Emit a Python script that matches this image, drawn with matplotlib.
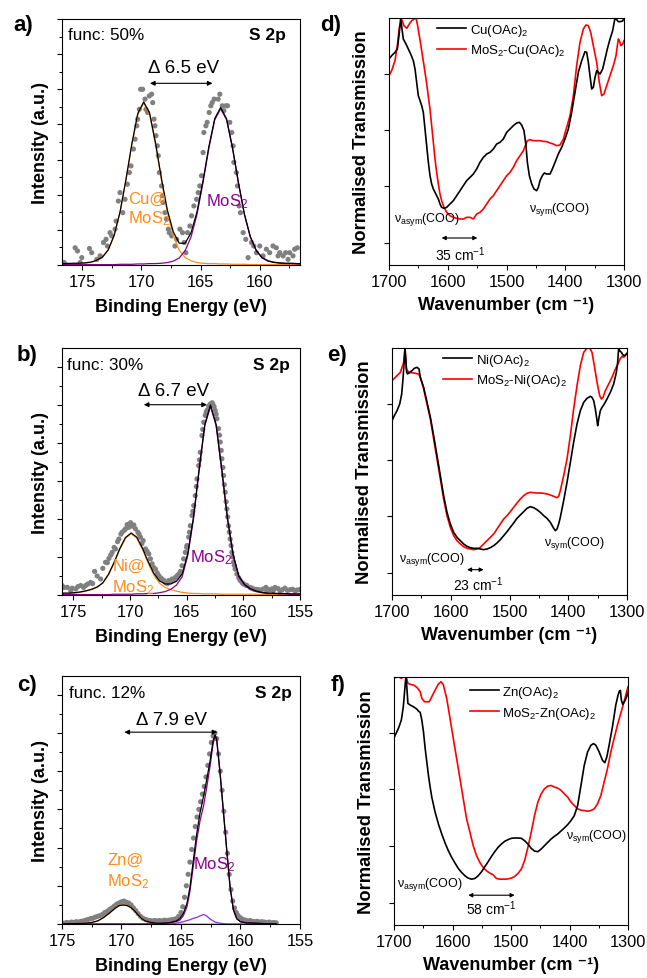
import matplotlib
matplotlib.use('Agg')
import matplotlib.pyplot as plt
from matplotlib.ticker import MultipleLocator, NullFormatter, FixedLocator
from matplotlib.lines import Line2D

plt.rcParams['font.family'] = ['Liberation Sans', 'DejaVu Sans']
plt.rcParams['mathtext.fontset'] = 'custom'
plt.rcParams['mathtext.rm'] = 'Liberation Sans'
plt.rcParams['mathtext.it'] = 'Liberation Sans:italic'
plt.rcParams['mathtext.bf'] = 'Liberation Sans:bold'

ORANGE = '#FF8C1A'
PURPLE = '#8B008B'
VIOLET = '#8A2BE2'
GREY = '#808080'
RED = '#FF0000'

# ---------------- XPS panel a (Cu) ----------------
a_fit_x = [176.8, 176.3, 175.8, 175.3, 174.8, 174.3, 173.8, 173.3, 172.8, 172.3, 171.8, 171.3, 170.8, 170.3,
           169.8, 169.3, 168.8, 168.3, 167.8, 167.3, 166.8, 166.3, 165.8, 165.3, 164.8, 164.3, 163.8, 163.3,
           162.8, 162.3, 161.8, 161.3, 160.8, 160.3, 159.8, 159.3, 158.8, 158.3, 157.8, 157.3, 156.8, 156.3]
a_fit_cu = [0.03, 0.03, 0.04, 0.04, 0.05, 0.07, 0.12, 0.21, 0.42, 0.83, 1.49, 2.41, 3.43, 4.28,
            4.61, 4.28, 3.43, 2.41, 1.49, 0.83, 0.42, 0.21, 0.12, 0.07, 0.05, 0.04, 0.04, 0.03,
            0.03, 0.02, 0.02, 0.02, 0.01, 0.01, 0.01, 0.01, 0.01, 0.01, 0.01, 0.01, 0.01, 0.01]
a_fit_mos = [0.01, 0.01, 0.01, 0.01, 0.01, 0.01, 0.01, 0.01, 0.01, 0.01, 0.02, 0.02, 0.02, 0.03,
             0.03, 0.04, 0.04, 0.05, 0.07, 0.11, 0.20, 0.41, 0.80, 1.44, 2.33, 3.32, 4.13, 4.45,
             4.13, 3.32, 2.33, 1.44, 0.80, 0.41, 0.20, 0.11, 0.07, 0.05, 0.04, 0.04, 0.03, 0.03]
a_fit_env = [0.04, 0.04, 0.05, 0.05, 0.06, 0.08, 0.13, 0.22, 0.43, 0.84, 1.51, 2.43, 3.45, 4.31,
             4.64, 4.32, 3.47, 2.46, 1.56, 0.94, 0.62, 0.62, 0.92, 1.51, 2.38, 3.36, 4.17, 4.48,
             4.16, 3.34, 2.35, 1.46, 0.81, 0.42, 0.21, 0.12, 0.08, 0.06, 0.05, 0.05, 0.04, 0.04]
a_pts = [(176.52, 0.07), (176.29, 0.0), (175.59, 0.49), (175.39, 0.40), (175.17, 0.07), (175.03, 0.21),
         (174.38, 0.47), (174.19, 0.35), (173.76, 0.16), (173.48, 0.26), (173.20, 0.64), (172.98, 0.73),
         (172.87, 0.54), (172.64, 0.92), (172.50, 0.83), (172.22, 1.02), (172.13, 1.25), (171.94, 1.82),
         (171.80, 2.06), (171.57, 1.49), (171.38, 1.87), (171.18, 2.30), (171.01, 2.63), (170.87, 2.82),
         (170.67, 3.30), (170.53, 3.58), (170.39, 3.96), (170.31, 4.15), (170.17, 4.43), (170.06, 5.00),
         (169.89, 5.00), (169.69, 4.72), (169.61, 4.43), (169.47, 4.34), (169.33, 4.81), (169.13, 4.86),
         (169.04, 4.62), (168.93, 4.15), (168.85, 3.96), (168.76, 3.68), (168.65, 3.39), (168.57, 3.11),
         (168.48, 2.63), (168.29, 2.25), (168.20, 1.97), (168.15, 1.78), (168.01, 1.49), (167.87, 1.30),
         (167.72, 1.02), (167.64, 0.92), (167.44, 0.83), (167.16, 0.54), (167.02, 0.73), (166.74, 1.02),
         (166.52, 0.92), (166.38, 0.64), (166.24, 0.35), (166.10, 0.92), (165.90, 1.11), (165.76, 1.40),
         (165.56, 1.68), (165.34, 1.87), (165.20, 2.06), (165.06, 2.25), (164.92, 2.54), (164.78, 3.20),
         (164.72, 3.77), (164.55, 3.96), (164.44, 4.06), (164.27, 4.34), (164.13, 4.53), (164.02, 4.62),
         (163.85, 4.72), (163.51, 4.72), (163.37, 4.86), (163.17, 4.53), (163.03, 4.39), (162.87, 4.53),
         (162.72, 4.53), (162.53, 4.06), (162.36, 3.77), (162.25, 3.39), (162.19, 2.92), (161.97, 2.63),
         (161.88, 2.25), (161.74, 1.68), (161.63, 1.49), (161.40, 0.92), (161.18, 0.73), (160.98, 0.21),
         (160.70, 0.64), (160.51, 0.54), (160.28, 0.35), (160.00, 0.54), (159.72, 0.26), (159.44, 0.45),
         (159.16, 0.35), (158.88, 0.54), (158.60, 0.49), (158.45, 0.26), (158.31, 0.35), (158.03, 0.26),
         (157.81, 0.35), (157.61, 0.16), (157.47, 0.35), (157.19, 0.26), (157.05, 0.45), (156.83, 0.49)]

# ---------------- XPS panel b (Ni) ----------------
b_fit_x = [176.4, 175.9, 175.4, 174.9, 174.4, 173.9, 173.4, 172.9, 172.4, 171.9, 171.4, 170.9, 170.4, 169.9,
           169.4, 168.9, 168.4, 167.9, 167.4, 166.9, 166.4, 165.9, 165.4, 164.9, 164.4, 163.9, 163.4, 162.9,
           162.4, 161.9, 161.4, 160.9, 160.4, 159.9, 159.4, 158.9, 158.4, 157.9, 157.4, 156.9, 156.4, 155.9,
           155.4, 154.9]
b_fit_ni = [0.03, 0.04, 0.04, 0.05, 0.07, 0.10, 0.14, 0.20, 0.31, 0.53, 0.84, 1.20, 1.49, 1.61,
            1.49, 1.20, 0.84, 0.53, 0.31, 0.20, 0.14, 0.10, 0.07, 0.05, 0.04, 0.04, 0.03, 0.03,
            0.03, 0.02, 0.02, 0.02, 0.02, 0.02, 0.02, 0.02, 0.01, 0.01, 0.01, 0.01, 0.01, 0.01,
            0.01, 0.01]
b_fit_mos = [0.01, 0.01, 0.01, 0.01, 0.01, 0.01, 0.01, 0.01, 0.01, 0.01, 0.02, 0.02, 0.02, 0.02,
             0.03, 0.03, 0.04, 0.04, 0.06, 0.09, 0.15, 0.26, 0.48, 1.04, 2.00, 3.27, 4.45, 4.96,
             4.45, 3.27, 2.00, 1.04, 0.48, 0.26, 0.15, 0.09, 0.06, 0.04, 0.04, 0.03, 0.03, 0.02,
             0.02, 0.02]
b_fit_env = [0.04, 0.05, 0.05, 0.06, 0.08, 0.11, 0.15, 0.21, 0.32, 0.54, 0.86, 1.22, 1.51, 1.63,
             1.52, 1.23, 0.88, 0.57, 0.37, 0.29, 0.29, 0.36, 0.55, 1.09, 2.04, 3.31, 4.48, 4.99,
             4.48, 3.29, 2.02, 1.06, 0.50, 0.28, 0.17, 0.11, 0.07, 0.05, 0.05, 0.04, 0.04, 0.03,
             0.03, 0.03]
b_pts = [(175.82, 0.20), (175.53, 0.20), (175.23, 0.11), (174.79, 0.16), (174.35, 0.25), (173.91, 0.25),
         (173.71, 0.29), (173.47, 0.33), (173.12, 0.62), (172.59, 0.42), (172.16, 0.86), (171.86, 0.96),
         (171.57, 1.12), (171.28, 1.21), (170.98, 1.47), (170.69, 1.65), (170.39, 1.74), (170.10, 1.78),
         (169.81, 1.81), (169.66, 1.84), (169.52, 1.74), (169.31, 1.65), (169.08, 1.52), (168.84, 1.43),
         (168.64, 1.21), (168.34, 1.08), (168.05, 0.82), (167.76, 0.68), (167.46, 0.51), (167.17, 0.42),
         (166.88, 0.33), (166.58, 0.38), (166.29, 0.42), (166.00, 0.46), (165.70, 0.55), (165.41, 0.77),
         (165.27, 0.95), (165.12, 1.12), (164.97, 1.30), (164.82, 1.52), (164.68, 1.82), (164.53, 2.09),
         (164.38, 2.35), (164.24, 2.61), (164.09, 3.05), (163.94, 3.40), (163.80, 3.75), (163.65, 4.19),
         (163.50, 4.54), (163.36, 4.72), (163.21, 4.85), (163.06, 4.96), (162.86, 5.03), (162.68, 5.00),
         (162.48, 4.85), (162.33, 4.63), (162.19, 4.37), (162.04, 4.02), (161.89, 3.58), (161.75, 3.14),
         (161.60, 2.70), (161.45, 2.26), (161.31, 1.82), (161.16, 1.47), (161.01, 1.12), (160.87, 0.86),
         (160.72, 0.68), (160.57, 0.55), (160.28, 0.38), (159.99, 0.29), (159.69, 0.25), (159.40, 0.20),
         (159.11, 0.16), (158.67, 0.14), (158.23, 0.16), (157.93, 0.11), (157.49, 0.16), (157.20, 0.20),
         (156.76, 0.11), (156.32, 0.18), (155.88, 0.14), (155.44, 0.11), (155.06, 0.14),
         (176.0, 0.25), (175.1, 0.18), (174.6, 0.22), (174.1, 0.20), (173.3, 0.30), (172.9, 0.50),
         (172.4, 0.70), (172.0, 0.85), (171.7, 1.05), (171.4, 1.25), (171.1, 1.40), (170.8, 1.60),
         (170.5, 1.70), (170.25, 1.85), (169.95, 1.90), (169.2, 1.60), (168.95, 1.35), (168.5, 1.15),
         (168.2, 0.95), (167.9, 0.72), (167.6, 0.58), (167.3, 0.45), (167.0, 0.38), (166.7, 0.30),
         (166.4, 0.35), (166.15, 0.40), (165.85, 0.50), (165.55, 0.62), (165.0, 1.25), (164.75, 1.65),
         (164.45, 2.20), (164.15, 2.85), (163.87, 3.55), (163.58, 4.35), (163.28, 4.80), (162.95, 5.00),
         (162.75, 5.05), (162.58, 4.95), (162.4, 4.75), (162.1, 4.20), (161.95, 3.80), (161.8, 3.35),
         (161.68, 2.90), (161.52, 2.45), (161.38, 2.05), (161.23, 1.65), (161.08, 1.30), (160.95, 1.00),
         (160.8, 0.78), (160.4, 0.45), (160.1, 0.32), (159.8, 0.26), (159.25, 0.18), (158.9, 0.15),
         (158.45, 0.13), (158.0, 0.20), (157.7, 0.14), (157.35, 0.12), (156.95, 0.17), (156.55, 0.14),
         (156.1, 0.12), (155.65, 0.15), (155.25, 0.13)]

# ---------------- XPS panel c (Zn) ----------------
c_fit_x = [175.2, 174.0, 173.0, 172.5, 172.0, 171.5, 171.0, 170.5, 170.2, 169.85, 169.5, 169.2, 168.9, 168.6,
           168.3, 168.0, 167.5, 167.0, 166.5, 166.0, 165.4, 165.1, 164.8, 164.5, 164.25, 163.95, 163.7, 163.4,
           163.1, 162.85, 162.55, 162.3, 162.14, 162.0, 161.72, 161.44, 161.16, 160.88, 160.6, 160.32, 160.0,
           159.5, 158.0, 157.0]
c_fit_zn = [0.0, 0.01, 0.02, 0.04, 0.08, 0.17, 0.29, 0.42, 0.48, 0.50, 0.48, 0.43, 0.34, 0.24,
            0.14, 0.08, 0.03, 0.01, 0.0, 0.0, 0.0, 0.0, 0.0, 0.0, 0.0, 0.0, 0.0, 0.0,
            0.0, 0.0, 0.0, 0.0, 0.0, 0.0, 0.0, 0.0, 0.0, 0.0, 0.0, 0.0, 0.0, 0.0, 0.0, 0.0]
c_fit_mos = [0.0, 0.0, 0.0, 0.0, 0.0, 0.0, 0.0, 0.0, 0.0, 0.0, 0.0, 0.0, 0.0, 0.0,
             0.0, 0.0, 0.01, 0.01, 0.02, 0.03, 0.06, 0.10, 0.22, 0.45, 0.85, 1.55, 2.15, 2.70,
             3.10, 3.55, 4.15, 4.72, 4.90, 4.80, 3.95, 2.95, 1.95, 0.98, 0.38, 0.14, 0.06, 0.03, 0.01, 0.0]
c_fit_minor = [0.0, 0.0, 0.0, 0.0, 0.0, 0.0, 0.0, 0.0, 0.0, 0.0, 0.0, 0.0, 0.0, 0.0,
               0.0, 0.0, 0.0, 0.0, 0.0, 0.0, 0.02, 0.04, 0.06, 0.09, 0.11, 0.15, 0.17, 0.21,
               0.25, 0.21, 0.13, 0.08, 0.05, 0.04, 0.02, 0.01, 0.0, 0.0, 0.0, 0.0, 0.0, 0.0, 0.0, 0.0]
c_fit_env = [0.0, 0.01, 0.02, 0.04, 0.08, 0.17, 0.29, 0.42, 0.48, 0.50, 0.48, 0.43, 0.34, 0.24,
             0.14, 0.08, 0.04, 0.02, 0.02, 0.03, 0.08, 0.14, 0.28, 0.54, 0.96, 1.70, 2.32, 2.91,
             3.35, 3.76, 4.28, 4.80, 4.95, 4.84, 3.97, 2.96, 1.95, 0.98, 0.38, 0.14, 0.06, 0.03, 0.01, 0.0]
c_pts = [(175.0, 0.03), (174.8, 0.02), (174.6, 0.04), (174.4, 0.03), (174.2, 0.05), (174.0, 0.04),
         (173.8, 0.06), (173.6, 0.05), (173.4, 0.07), (173.2, 0.08), (173.0, 0.10), (172.8, 0.12),
         (172.6, 0.14), (172.4, 0.15), (172.2, 0.18), (172.0, 0.20), (171.8, 0.22), (171.6, 0.25),
         (171.4, 0.30), (171.2, 0.33), (171.0, 0.38), (170.8, 0.42), (170.6, 0.47), (170.4, 0.52),
         (170.2, 0.55), (170.0, 0.58), (169.8, 0.60), (169.6, 0.57), (169.4, 0.55), (169.2, 0.50),
         (169.0, 0.42), (168.8, 0.35), (168.6, 0.27), (168.4, 0.20), (168.2, 0.15), (168.0, 0.12),
         (167.8, 0.10), (167.6, 0.09), (167.4, 0.08), (167.2, 0.09), (167.0, 0.08), (166.8, 0.09),
         (166.6, 0.08), (166.4, 0.10), (166.2, 0.09), (166.0, 0.10), (165.8, 0.11), (165.6, 0.12),
         (165.4, 0.14), (165.2, 0.20), (165.0, 0.30), (164.85, 0.45), (164.7, 0.70), (164.55, 1.00),
         (164.4, 1.30), (164.25, 1.62), (164.1, 1.95), (163.95, 2.25), (163.8, 2.55), (163.65, 2.80),
         (163.5, 3.00), (163.35, 3.20), (163.2, 3.40), (163.05, 3.60), (162.9, 3.85), (162.75, 4.15),
         (162.6, 4.45), (162.45, 4.75), (162.3, 4.92), (162.15, 5.00), (162.0, 4.85), (161.85, 4.45),
         (161.7, 4.00), (161.55, 3.50), (161.4, 2.95), (161.25, 2.40), (161.1, 1.85), (160.95, 1.30),
         (160.8, 0.90), (160.65, 0.60), (160.5, 0.42), (160.35, 0.30), (160.2, 0.22), (160.0, 0.16),
         (159.8, 0.12), (159.6, 0.10), (159.4, 0.08), (159.2, 0.09), (159.0, 0.07), (158.8, 0.06),
         (158.6, 0.07), (158.4, 0.05), (158.2, 0.06), (158.0, 0.05), (157.8, 0.04), (157.6, 0.05),
         (157.4, 0.03), (157.2, 0.04), (157.0, 0.03)]

# ---------------- IR panel d (Cu) ----------------
d_salt = [(1700, 6.18), (1695.5, 6.28), (1689.8, 6.38), (1685.8, 6.48), (1682.4, 6.98), (1680.1, 7.41),
          (1677.9, 7.08), (1675.6, 6.78), (1671.1, 6.63), (1667.1, 6.48), (1663.1, 6.33), (1658.6, 6.13),
          (1655.7, 5.88), (1652.9, 5.48), (1650.1, 5.08), (1647.2, 4.93), (1644.4, 4.78), (1641.6, 4.58),
          (1638.7, 4.08), (1635.9, 3.58), (1633.0, 3.08), (1630.2, 2.68), (1627.4, 2.43), (1624.5, 2.28),
          (1621.7, 2.18), (1618.9, 2.08), (1616.0, 1.98), (1613.2, 1.83), (1610.4, 1.73), (1606.4, 1.70),
          (1601.8, 1.73), (1596.2, 1.83), (1590.5, 1.93), (1584.8, 2.08), (1579.1, 2.23), (1573.5, 2.38),
          (1567.8, 2.53), (1562.1, 2.63), (1556.4, 2.73), (1550.8, 2.88), (1545.1, 3.08), (1539.4, 3.23),
          (1533.7, 3.33), (1528.1, 3.38), (1522.4, 3.48), (1516.7, 3.63), (1511.1, 3.68), (1505.4, 3.78),
          (1499.7, 3.98), (1494.0, 4.08), (1488.4, 4.18), (1482.7, 4.26), (1478.1, 4.28), (1474.2, 4.20),
          (1470.2, 4.03), (1466.8, 3.58), (1464.5, 3.08), (1461.1, 2.68), (1457.1, 2.43), (1453.2, 2.28),
          (1448.6, 2.23), (1445.8, 2.33), (1443.0, 2.53), (1439.0, 2.68), (1435.6, 2.76), (1431.6, 2.73),
          (1425.9, 2.73), (1422.0, 2.88), (1417.4, 3.08), (1411.8, 3.33), (1406.1, 3.53), (1400.4, 3.78),
          (1394.7, 4.08), (1389.1, 4.58), (1383.4, 5.18), (1377.7, 5.78), (1372.0, 6.13), (1366.4, 6.40),
          (1363.5, 6.38), (1360.7, 6.08), (1357.9, 5.68), (1355.0, 5.28), (1352.2, 5.33), (1349.3, 5.63),
          (1346.5, 5.83), (1343.7, 5.78), (1340.8, 5.73), (1336.3, 5.88), (1332.3, 6.18), (1328.4, 6.48),
          (1323.8, 6.78), (1319.3, 7.03), (1315.3, 7.41), (1312.5, 7.36), (1309.6, 7.30), (1306.8, 7.30),
          (1302.2, 7.32), (1300.0, 7.41)]
d_hybrid = [(1700, 5.68), (1695.5, 5.83), (1689.8, 6.13), (1685.8, 6.58), (1682.4, 7.13), (1678.4, 7.36),
            (1674.5, 7.18), (1669.9, 7.10), (1665.4, 7.23), (1661.4, 7.33), (1657.4, 7.38), (1654.0, 7.41),
            (1651.8, 7.23), (1648.4, 6.88), (1644.4, 6.43), (1640.4, 5.98), (1637.0, 5.58), (1634.7, 5.28),
            (1632.5, 4.98), (1630.2, 4.68), (1627.4, 4.18), (1624.5, 3.68), (1621.7, 3.18), (1618.9, 2.78),
            (1616.0, 2.43), (1613.2, 2.13), (1610.4, 1.93), (1606.4, 1.73), (1601.8, 1.58), (1596.2, 1.48),
            (1590.5, 1.43), (1584.8, 1.40), (1579.1, 1.38), (1573.5, 1.38), (1567.8, 1.43), (1562.1, 1.43),
            (1556.4, 1.38), (1550.8, 1.53), (1545.1, 1.58), (1539.4, 1.68), (1533.7, 1.83), (1528.1, 1.98),
            (1522.4, 2.08), (1516.7, 2.23), (1511.1, 2.38), (1505.4, 2.53), (1499.7, 2.68), (1494.0, 2.78),
            (1488.4, 2.93), (1482.7, 3.13), (1477.0, 3.28), (1471.3, 3.43), (1466.8, 3.63), (1464.5, 3.73),
            (1460.0, 3.76), (1454.3, 3.73), (1448.6, 3.73), (1443.0, 3.73), (1437.3, 3.71), (1431.6, 3.70),
            (1425.9, 3.66), (1420.3, 3.63), (1414.6, 3.58), (1408.9, 3.60), (1403.2, 3.78), (1397.6, 4.13),
            (1391.9, 4.48), (1386.2, 5.08), (1380.6, 5.98), (1374.9, 6.68), (1369.2, 7.08), (1364.7, 7.20),
            (1360.7, 7.18), (1356.7, 6.98), (1352.2, 6.58), (1346.5, 6.08), (1342.0, 5.48), (1338.0, 5.08),
            (1334.0, 5.13), (1329.5, 5.38), (1323.8, 5.68), (1318.1, 5.98), (1313.6, 6.28), (1311.3, 6.58),
            (1309.6, 6.78), (1307.9, 6.73), (1305.1, 6.58), (1302.2, 6.63), (1300.0, 6.73)]

# ---------------- IR panel e (Ni) ----------------
e_salt = [(1700, 5.23), (1696.0, 5.38), (1691.5, 5.53), (1686.9, 5.73), (1683.5, 6.03), (1681.3, 6.48),
          (1679.0, 7.08), (1677.9, 7.40), (1676.7, 7.13), (1675.0, 6.68), (1673.3, 6.63), (1669.9, 6.68),
          (1666.0, 6.73), (1662.0, 6.80), (1657.4, 6.83), (1654.0, 6.78), (1651.8, 6.53), (1646.1, 6.23),
          (1640.4, 5.78), (1634.7, 5.33), (1629.1, 4.78), (1623.4, 4.18), (1617.7, 3.58), (1612.1, 2.98),
          (1606.4, 2.48), (1600.7, 2.13), (1595.0, 1.88), (1589.4, 1.73), (1583.7, 1.63), (1578.0, 1.53),
          (1572.3, 1.46), (1566.7, 1.42), (1561.0, 1.40), (1555.3, 1.40), (1549.6, 1.38), (1544.0, 1.36),
          (1538.3, 1.38), (1532.6, 1.42), (1526.9, 1.48), (1521.3, 1.56), (1515.6, 1.66), (1509.9, 1.78),
          (1504.2, 1.90), (1498.6, 2.03), (1492.9, 2.16), (1487.2, 2.30), (1481.6, 2.40), (1475.9, 2.50),
          (1470.2, 2.60), (1464.5, 2.65), (1458.9, 2.62), (1453.2, 2.56), (1447.5, 2.48), (1441.8, 2.38),
          (1436.2, 2.30), (1430.5, 2.18), (1424.8, 2.00), (1422.0, 1.93), (1419.1, 1.98), (1416.3, 2.13),
          (1413.5, 2.33), (1407.8, 2.83), (1402.1, 3.38), (1396.4, 3.98), (1390.8, 4.58), (1385.1, 5.13),
          (1379.4, 5.53), (1373.7, 5.78), (1368.1, 5.90), (1362.4, 5.96), (1359.6, 5.93), (1356.7, 5.83),
          (1353.9, 5.58), (1351.0, 5.23), (1349.9, 5.08), (1347.6, 5.33), (1345.4, 5.53), (1342.5, 5.63),
          (1339.7, 5.70), (1334.0, 5.88), (1328.4, 6.08), (1322.7, 6.33), (1318.1, 6.68), (1315.9, 6.98),
          (1314.2, 7.40), (1312.5, 7.33), (1309.6, 7.28), (1306.8, 7.20), (1304.0, 7.18), (1300.0, 7.25)]
e_hybrid = [(1700, 6.43), (1694.3, 6.53), (1685.8, 6.68), (1680.1, 6.98), (1677.9, 7.41), (1675.6, 6.78),
            (1671.6, 6.68), (1663.1, 6.66), (1654.6, 6.63), (1651.8, 6.53), (1646.1, 6.18), (1640.4, 5.73),
            (1634.7, 5.28), (1629.1, 4.68), (1623.4, 4.08), (1617.7, 3.48), (1612.1, 2.88), (1606.4, 2.38),
            (1600.7, 2.03), (1595.0, 1.78), (1589.4, 1.63), (1583.7, 1.53), (1578.0, 1.45), (1572.3, 1.40),
            (1566.7, 1.38), (1561.0, 1.36), (1555.3, 1.38), (1549.6, 1.43), (1544.0, 1.53), (1538.3, 1.63),
            (1532.6, 1.73), (1526.9, 1.83), (1521.3, 1.98), (1515.6, 2.13), (1509.9, 2.28), (1504.2, 2.38),
            (1498.6, 2.50), (1492.9, 2.63), (1487.2, 2.76), (1481.6, 2.88), (1475.9, 2.98), (1470.2, 3.05),
            (1464.5, 3.08), (1458.9, 3.07), (1453.2, 3.06), (1447.5, 3.06), (1441.8, 3.05), (1436.2, 3.03),
            (1430.5, 3.00), (1424.8, 2.96), (1419.1, 2.92), (1416.3, 2.96), (1413.5, 3.13), (1407.8, 3.58),
            (1402.1, 4.08), (1396.4, 4.78), (1390.8, 5.58), (1385.1, 6.28), (1379.4, 6.88), (1373.7, 7.28),
            (1368.1, 7.40), (1363.5, 7.41), (1359.6, 7.28), (1355.6, 6.88), (1351.0, 6.38), (1346.5, 5.98),
            (1343.7, 5.88), (1340.8, 5.93), (1336.9, 6.13), (1331.2, 6.33), (1325.5, 6.53), (1319.8, 6.78),
            (1315.3, 6.93), (1311.3, 7.10), (1308.5, 7.16), (1305.7, 7.13), (1302.8, 7.18), (1300.0, 7.25)]

# ---------------- IR panel f (Zn) ----------------
f_salt = [(1700, 5.59), (1696.6, 5.72), (1692.1, 5.89), (1687.5, 6.12), (1684.1, 6.52), (1681.9, 6.97),
          (1679.6, 7.45), (1677.9, 7.07), (1676.2, 6.62), (1672.2, 6.57), (1666.6, 6.52), (1660.9, 6.45),
          (1658.1, 6.39), (1655.2, 6.35), (1652.4, 6.12), (1649.6, 5.77), (1646.7, 5.27), (1643.9, 4.87),
          (1641.1, 4.47), (1638.2, 4.12), (1635.4, 3.82), (1629.7, 3.37), (1624.1, 3.02), (1618.4, 2.72),
          (1612.7, 2.45), (1607.1, 2.22), (1601.4, 2.02), (1595.7, 1.85), (1590.1, 1.69), (1584.4, 1.57),
          (1578.7, 1.47), (1573.1, 1.40), (1567.4, 1.37), (1561.7, 1.39), (1556.1, 1.47), (1550.4, 1.59),
          (1544.8, 1.74), (1539.1, 1.89), (1533.4, 2.05), (1527.8, 2.19), (1522.1, 2.32), (1516.4, 2.42),
          (1510.8, 2.50), (1505.1, 2.55), (1499.4, 2.59), (1493.8, 2.60), (1488.1, 2.60), (1482.4, 2.59),
          (1476.8, 2.52), (1471.1, 2.42), (1465.4, 2.29), (1459.8, 2.21), (1454.1, 2.19), (1448.4, 2.27),
          (1442.8, 2.37), (1437.1, 2.47), (1431.4, 2.57), (1425.8, 2.65), (1420.1, 2.72), (1414.4, 2.81),
          (1408.8, 2.90), (1403.1, 3.00), (1397.4, 3.12), (1391.8, 3.27), (1386.1, 3.57), (1380.4, 4.17),
          (1374.8, 4.77), (1369.1, 5.17), (1363.4, 5.37), (1358.9, 5.42), (1354.9, 5.37), (1349.3, 5.17),
          (1343.6, 4.92), (1339.6, 4.85), (1336.2, 5.02), (1332.3, 5.37), (1326.6, 5.92), (1320.9, 6.57),
          (1317.0, 6.87), (1314.7, 6.99), (1313.0, 7.01), (1311.3, 6.72), (1309.0, 6.59), (1305.6, 6.69),
          (1302.2, 6.82), (1300.0, 6.97)]
f_hybrid = [(1700, 7.37), (1696.6, 7.40), (1692.1, 7.42), (1687.5, 7.37), (1683.6, 7.42), (1679.6, 7.45),
            (1676.2, 7.22), (1672.2, 7.19), (1666.6, 7.17), (1660.9, 7.10), (1655.2, 6.97), (1652.4, 6.77),
            (1647.9, 6.67), (1643.9, 6.67), (1639.9, 6.67), (1635.4, 6.82), (1629.7, 7.02), (1624.1, 7.20),
            (1619.5, 7.27), (1615.6, 7.17), (1609.9, 6.77), (1604.2, 6.17), (1598.6, 5.57), (1592.9, 4.97),
            (1587.2, 4.37), (1581.6, 3.77), (1575.9, 3.17), (1570.2, 2.77), (1564.6, 2.37), (1558.9, 2.07),
            (1553.3, 1.87), (1547.6, 1.72), (1541.9, 1.62), (1536.3, 1.55), (1530.6, 1.50), (1524.9, 1.39),
            (1519.3, 1.37), (1513.6, 1.37), (1507.9, 1.37), (1499.4, 1.40), (1493.8, 1.45), (1488.1, 1.54),
            (1482.4, 1.67), (1476.8, 1.92), (1471.1, 2.32), (1465.4, 2.77), (1459.8, 3.27), (1454.1, 3.67),
            (1448.4, 3.92), (1442.8, 4.07), (1437.1, 4.15), (1431.4, 4.17), (1425.8, 4.12), (1420.1, 4.09),
            (1414.4, 4.02), (1408.8, 3.92), (1403.1, 3.82), (1397.4, 3.67), (1391.8, 3.57), (1386.1, 3.47),
            (1380.4, 3.43), (1374.8, 3.42), (1369.1, 3.40), (1363.4, 3.42), (1357.8, 3.47), (1352.1, 3.62),
            (1346.4, 3.87), (1340.8, 4.27), (1335.1, 4.67), (1329.4, 5.17), (1323.8, 5.57), (1318.1, 5.97),
            (1312.4, 6.32), (1306.8, 6.67), (1300.0, 7.12)]

ir_yticks = [0.67, 2.36, 4.05, 5.74]

# ---------------- figure ----------------
W, H = 647, 979
fig = plt.figure(figsize=(W / 100, H / 100), dpi=100)
fig.patch.set_facecolor('white')


def px_axes(l, t, r, b):
    return fig.add_axes([l / W, 1 - b / H, (r - l) / W, (b - t) / H])


ax_a = px_axes(62, 20, 300, 266)
ax_b = px_axes(62, 349, 300, 596)
ax_c = px_axes(62, 677, 300, 925)
ax_d = px_axes(389, 19, 624, 266)
ax_e = px_axes(392, 349, 627, 596)
ax_f = px_axes(394, 678, 628, 926)


def style(ax):
    for s in ax.spines.values():
        s.set_linewidth(0.8)
    ax.tick_params(which='major', direction='out', length=3.5, width=0.8, labelsize=11.8, pad=3)
    ax.tick_params(which='minor', direction='out', length=2, width=0.7)
    ax.yaxis.set_major_formatter(NullFormatter())
    ax.yaxis.set_minor_formatter(NullFormatter())


def xps(ax, xlim, ylim, fit_x, comps, env, pts, func_txt, delta_txt, delta_pos, arrow, labels):
    px, py = zip(*pts)
    ax.scatter(px, py, s=14, color=GREY, edgecolors='none', zorder=1, clip_on=True)
    for ys, col in comps:
        ax.plot(fit_x, ys, color=col, lw=0.9, zorder=2)
    ax.plot(fit_x, env, color='black', lw=0.9, zorder=3)
    ax.set_xlim(*xlim)
    ax.set_ylim(*ylim)
    ax.xaxis.set_major_locator(MultipleLocator(5))
    ax.xaxis.set_minor_locator(MultipleLocator(2.5))
    ax.yaxis.set_major_locator(MultipleLocator(1))
    ax.yaxis.set_minor_locator(MultipleLocator(0.5))
    style(ax)
    ax.set_xlabel('Binding Energy (eV)', fontsize=13, fontweight='bold')
    ax.xaxis.set_label_coords(0.5, -0.167)
    ax.xaxis.label.set_va('center')
    ax.set_ylabel('Intensity (a.u.)', fontsize=13, fontweight='bold', va='center')
    ax.yaxis.set_label_coords(-0.092, 0.5)
    ax.text(func_txt[1], 0.935, func_txt[0], transform=ax.transAxes, fontsize=12.3, ha='left', va='center')
    ax.text(func_txt[2], 0.935, 'S 2p', transform=ax.transAxes, fontsize=12.5, fontweight='bold',
            ha='right', va='center')
    ax.text(delta_pos[0], delta_pos[1], delta_txt, fontsize=13.5, ha='center', va='center')
    ax.annotate('', xy=(arrow[0], arrow[2]), xytext=(arrow[1], arrow[2]),
                arrowprops=dict(arrowstyle='<|-|>', color='black', lw=0.8, mutation_scale=7,
                                shrinkA=0, shrinkB=0))
    for (tx, ty, txt, col) in labels:
        ax.text(tx, ty, txt, color=col, fontsize=12, ha='left', va='center')


xps(ax_a, (176.7, 156.6), (0, 7.0), a_fit_x, [(a_fit_cu, ORANGE), (a_fit_mos, PURPLE)], a_fit_env, a_pts,
    ('func: 50%', 0.027, 0.941), '\u0394 6.5 eV', (166.45, 5.62), (169.27, 163.99, 5.17),
    [(171.1, 1.90, 'Cu@', ORANGE), (171.1, 1.36, 'MoS$_2$', ORANGE), (164.55, 1.82, 'MoS$_2$', PURPLE)])

xps(ax_b, (176.0, 155.0), (0, 6.49), b_fit_x, [(b_fit_ni, ORANGE), (b_fit_mos, PURPLE)], b_fit_env, b_pts,
    ('func: 30%', 0.02, 0.958), '\u0394 6.7 eV', (166.15, 5.38), (168.78, 163.21, 5.0),
    [(171.57, 0.77, 'Ni@', ORANGE), (171.57, 0.23, 'MoS$_2$', ORANGE), (164.74, 1.02, 'MoS$_2$', PURPLE)])

xps(ax_c, (175.0, 155.0), (0, 6.49), c_fit_x,
    [(c_fit_zn, ORANGE), (c_fit_minor, VIOLET), (c_fit_mos, PURPLE)], c_fit_env, c_pts,
    ('func. 12%', 0.031, 0.965), '\u0394 7.9 eV', (165.8, 5.34), (169.76, 161.95, 5.02),
    [(171.19, 1.69, 'Zn@', ORANGE), (171.19, 1.14, 'MoS$_2$', ORANGE), (163.96, 1.58, 'MoS$_2$', PURPLE)])


def ir(ax, salt, hybrid, salt_lbl, hyb_lbl, leg_xy, asym_xy, sym_xy, arrow, shift_txt, shift_xy):
    sx, sy = zip(*salt)
    hx, hy = zip(*hybrid)
    ax.plot(sx, sy, color='black', lw=1.2, zorder=3)
    ax.plot(hx, hy, color=RED, lw=1.2, zorder=2)
    ax.set_xlim(1700, 1300)
    ax.set_ylim(0, 7.41)
    ax.xaxis.set_major_locator(MultipleLocator(100))
    ax.xaxis.set_minor_locator(MultipleLocator(50))
    ax.yaxis.set_major_locator(FixedLocator(ir_yticks))
    style(ax)
    ax.set_xlabel('Wavenumber (cm \u207b\u00b9)', fontsize=13, fontweight='bold')
    ax.xaxis.set_label_coords(0.5, -0.16)
    ax.xaxis.label.set_va('center')
    ax.set_ylabel('Normalised Transmission', fontsize=13.2, fontweight='bold', va='center')
    ax.yaxis.set_label_coords(-0.119, 0.5)
    handles = [Line2D([], [], color='black', lw=1.2), Line2D([], [], color=RED, lw=1.2)]
    ax.legend(handles, [salt_lbl, hyb_lbl], loc='upper left', bbox_to_anchor=leg_xy, frameon=False,
              fontsize=9.5, handlelength=2.2, handletextpad=0.25, labelspacing=0.35, borderpad=0,
              borderaxespad=0)
    ax.text(asym_xy[0], asym_xy[1], '\u03bd$_{\\mathrm{asym}}$(COO)', fontsize=9, ha='left', va='center')
    ax.text(sym_xy[0], sym_xy[1], '\u03bd$_{\\mathrm{sym}}$(COO)', fontsize=9, ha='left', va='center')
    ax.annotate('', xy=(arrow[0], arrow[2]), xytext=(arrow[1], arrow[2]),
                arrowprops=dict(arrowstyle='<|-|>', color='black', lw=0.8, mutation_scale=6,
                                shrinkA=0, shrinkB=0))
    ax.text(shift_xy[0], shift_xy[1], shift_txt, fontsize=10, ha='center', va='center')


ir(ax_d, d_salt, d_hybrid, 'Cu(OAc)$_2$', 'MoS$_2$-Cu(OAc)$_2$', (0.206, 0.985), (1691.5, 1.38), (1461, 1.70),
   (1610.4, 1549.6, 0.81), '35 cm$^{-1}$', (1579, 0.33))
ir(ax_e, e_salt, e_hybrid, 'Ni(OAc)$_2$', 'MoS$_2$-Ni(OAc)$_2$', (0.218, 0.985), (1688.7, 1.08), (1440.7, 1.56),
   (1572.3, 1544.0, 0.76), '23 cm$^{-1}$', (1554, 0.33))
ir(ax_f, f_salt, f_hybrid, 'Zn(OAc)$_2$', 'MoS$_2$-Zn(OAc)$_2$', (0.325, 0.972), (1694.3, 1.25), (1406, 2.67),
   (1573.1, 1493.8, 0.89), '58 cm$^{-1}$', (1533, 0.52))

for lbl, x, y in [('a)', 13, 26), ('b)', 17, 356), ('c)', 17, 686), ('d)', 320, 26), ('e)', 327, 356),
                  ('f)', 331, 685)]:
    fig.text(x / W, 1 - y / H, lbl, fontsize=16, fontweight='bold', ha='left', va='center')

fig.savefig('out.png', dpi=100, facecolor='white')
